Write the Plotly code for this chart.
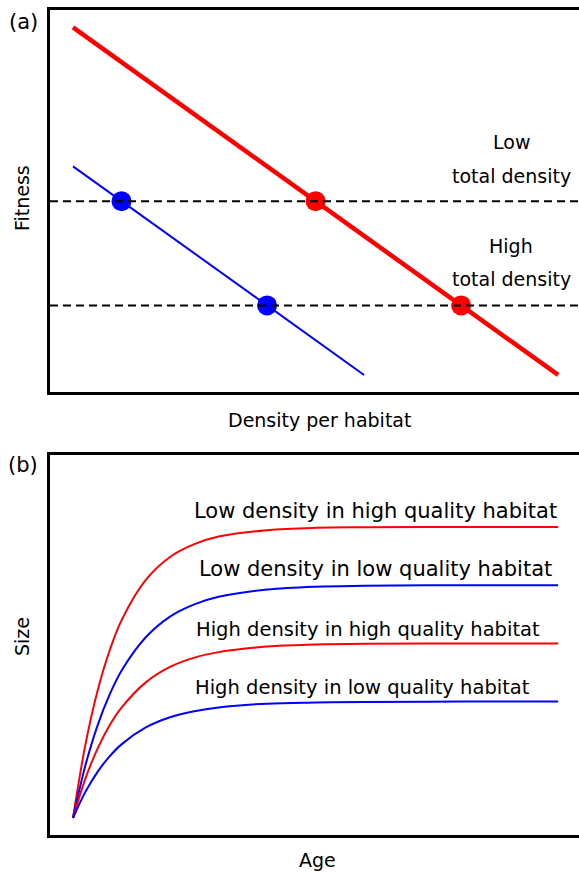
import plotly.graph_objects as go

# ---------- Panel (a): fitness vs density per habitat ----------
density_high_q = [0, 10]        # high quality habitat (red)
fitness_high_q = [10, 0]
density_low_q = [0, 6]          # low quality habitat (blue)
fitness_low_q = [6, 0]
fitness_levels = [5, 2]         # low / high total density (dashed)
pts_blue_x = [1, 4]
pts_blue_y = [5, 2]
pts_red_x = [5, 8]
pts_red_y = [5, 2]

# ---------- Panel (b): size vs age ----------
age = [0, 0.25, 0.5, 0.75, 1, 1.5, 2, 2.5, 3, 4, 5, 6, 8, 10]
size_low_dens_high_q = [0, 2.47, 4.33, 5.73, 6.79, 8.18, 8.97, 9.41, 9.67, 9.89, 9.97, 9.99, 10, 10]
size_low_dens_low_q = [0, 1.77, 3.15, 4.22, 5.06, 6.21, 6.92, 7.34, 7.60, 7.85, 7.95, 7.98, 8, 8]
size_high_dens_high_q = [0, 1.33, 2.36, 3.17, 3.79, 4.66, 5.19, 5.51, 5.70, 5.89, 5.96, 5.99, 6, 6]
size_high_dens_low_q = [0, 0.88, 1.57, 2.11, 2.53, 3.11, 3.46, 3.67, 3.80, 3.93, 3.97, 3.99, 4, 4]
curve_labels = ["Low density in high quality habitat", "Low density in low quality habitat",
                "High density in high quality habitat", "High density in low quality habitat"]
label_age = [6.23, 6.23, 6.08, 5.96]
label_size = [10.55, 8.56, 6.49, 4.50]
label_font = [21, 21, 19.5, 19.5]

RED = "#FF0000"
BLUE = "#0000FF"
FONT = "DejaVu Sans"

fig = go.Figure()

# Panel a
fig.add_trace(go.Scatter(x=density_high_q, y=fitness_high_q, mode="lines",
                         line=dict(color=RED, width=4.5), xaxis="x", yaxis="y", showlegend=False))
fig.add_trace(go.Scatter(x=density_low_q, y=fitness_low_q, mode="lines",
                         line=dict(color=BLUE, width=2), xaxis="x", yaxis="y", showlegend=False))
for lv in fitness_levels:
    fig.add_shape(type="line", xref="x domain", yref="y", x0=0, x1=1, y0=lv, y1=lv,
                  line=dict(color="black", width=2, dash="8px,5px"))
fig.add_trace(go.Scatter(x=pts_blue_x, y=pts_blue_y, mode="markers",
                         marker=dict(color=BLUE, size=20), xaxis="x", yaxis="y", showlegend=False))
fig.add_trace(go.Scatter(x=pts_red_x, y=pts_red_y, mode="markers",
                         marker=dict(color=RED, size=20), xaxis="x", yaxis="y", showlegend=False))

# Panel b
for ys, col in [(size_low_dens_high_q, RED), (size_low_dens_low_q, BLUE),
                (size_high_dens_high_q, RED), (size_high_dens_low_q, BLUE)]:
    fig.add_trace(go.Scatter(x=age, y=ys, mode="lines", line=dict(color=col, width=2, shape="spline"),
                             xaxis="x2", yaxis="y2", showlegend=False))

ann = []
for t, ax_, sy, fs in zip(curve_labels, label_age, label_size, label_font):
    ann.append(dict(text=t, x=ax_, y=sy, xref="x2", yref="y2", showarrow=False,
                    xanchor="center", yanchor="middle",
                    font=dict(size=fs, color="black", family=FONT)))
# Panel a labels
for t, yy in [("Low", 6.69), ("total density", 5.73), ("High", 3.72), ("total density", 2.77)]:
    ann.append(dict(text=t, x=9.03, y=yy, xref="x", yref="y", showarrow=False,
                    xanchor="center", yanchor="middle",
                    font=dict(size=19, color="black", family=FONT)))
# Axis titles and panel letters
ann += [
    dict(text="Fitness", x=-0.0529, y=0.772, xref="paper", yref="paper", textangle=-90,
         xanchor="center", yanchor="middle",
         showarrow=False, font=dict(size=19, family=FONT, color="black")),
    dict(text="Size", x=-0.0529, y=0.24, xref="paper", yref="paper", textangle=-90,
         xanchor="center", yanchor="middle",
         showarrow=False, font=dict(size=19, family=FONT, color="black")),
    dict(text="Density per habitat", x=0.510, y=0.503, xref="paper", yref="paper",
         xanchor="center", yanchor="middle",
         showarrow=False, font=dict(size=19, family=FONT, color="black")),
    dict(text="Age", x=0.505, y=-0.0303, xref="paper", yref="paper",
         xanchor="center", yanchor="middle",
         showarrow=False, font=dict(size=19, family=FONT, color="black")),
    dict(text="(a)", x=-0.019, y=0.985, xref="paper", yref="paper", xanchor="right",
         yanchor="middle",
         showarrow=False, font=dict(size=21, family=FONT, color="black")),
    dict(text="(b)", x=-0.019, y=0.448, xref="paper", yref="paper", xanchor="right",
         yanchor="middle",
         showarrow=False, font=dict(size=21, family=FONT, color="black")),
]

axis_common = dict(showgrid=False, zeroline=False, showticklabels=False, ticks="",
                   showline=True, linecolor="black", linewidth=3)

fig.update_layout(
    width=579, height=872,
    margin=dict(l=50, r=0, t=10, b=37),
    paper_bgcolor="white", plot_bgcolor="white",
    xaxis=dict(domain=[0, 1], range=[-0.474, 10.43], anchor="y", mirror=True, **axis_common),
    yaxis=dict(domain=[0.537, 1], range=[-0.49, 10.5], anchor="x", **axis_common),
    xaxis2=dict(domain=[0, 1], range=[-0.474, 10.43], anchor="y2", mirror=True, **axis_common),
    yaxis2=dict(domain=[0, 0.4612], range=[-0.584, 12.49], anchor="x2", **axis_common),
    annotations=ann,
)

fig.write_html("out.html", config={"displayModeBar": False},
               post_script="document.body.style.margin='0';document.body.style.overflow='hidden';")
